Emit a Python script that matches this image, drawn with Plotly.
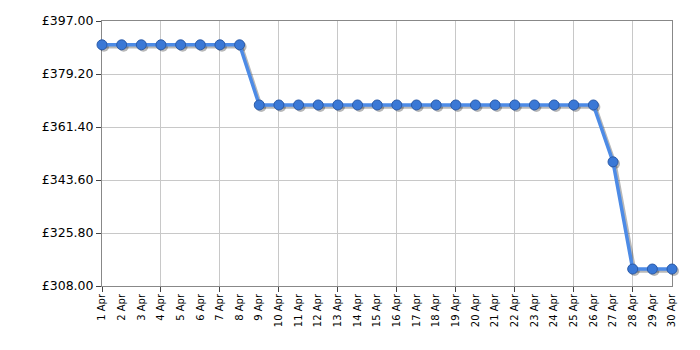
import plotly.graph_objects as go

days = list(range(1, 31))
day_labels = [f"{d} Apr" for d in days]
prices = [389.0] * 8 + [368.8] * 18 + [349.7] + [313.7] * 3
y_ticks = [308.0, 325.8, 343.6, 361.4, 379.2, 397.0]
y_labels = [f"£{v:.2f}" for v in y_ticks]
grid_days = list(range(1, 31, 3))

W, H = 700, 350
ml, mr, mt, mb = 102, 26, 21, 62
pw = W - ml - mr
ph = H - mt - mb
dx = 2 / pw
dy = 2 / ph

xr = [1, 30]
yr = [308, 397]
font = "DejaVu Sans, Verdana, sans-serif"

fig = go.Figure()

# frame / grid holder
fig.add_trace(go.Scatter(x=days, y=prices, xaxis="x", yaxis="y", mode="markers",
                         marker=dict(opacity=0), hoverinfo="skip", showlegend=False))
# shadow (offset axes)
fig.add_trace(go.Scatter(x=days, y=prices, xaxis="x2", yaxis="y2", mode="lines+markers",
                         line=dict(color="rgba(0,0,0,0.28)", width=3.5),
                         marker=dict(size=10, color="rgba(0,0,0,0.28)"),
                         cliponaxis=False, hoverinfo="skip", showlegend=False))
# main data
fig.add_trace(go.Scatter(x=days, y=prices, xaxis="x3", yaxis="y3", mode="lines+markers",
                         line=dict(color="#4d8be6", width=3.5),
                         marker=dict(size=10, color="#3a78d6", line=dict(color="#2a5aa8", width=1)),
                         cliponaxis=False, showlegend=False))

fig.update_layout(
    width=W, height=H,
    margin=dict(l=ml, r=mr, t=mt, b=mb),
    paper_bgcolor="white", plot_bgcolor="rgba(0,0,0,0)",
    font=dict(family=font, color="#000"),
    xaxis=dict(domain=[0, 1 - dx], range=xr, tickmode="array", tickvals=grid_days,
               showticklabels=False, ticks="outside", ticklen=5, tickcolor="#444",
               showgrid=True, gridcolor="#c8c8c8", gridwidth=1,
               showline=True, linecolor="#888", linewidth=1, mirror=True, zeroline=False),
    yaxis=dict(domain=[dy, 1], range=yr, tickmode="array", tickvals=y_ticks, ticktext=y_labels,
               ticks="outside", ticklen=5, tickcolor="#444", tickfont=dict(size=12.5, color="#000"),
               showgrid=True, gridcolor="#c8c8c8", gridwidth=1,
               showline=True, linecolor="#888", linewidth=1, mirror=True, zeroline=False),
    xaxis2=dict(domain=[dx, 1], range=xr, visible=False, anchor="y2"),
    yaxis2=dict(domain=[0, 1 - dy], range=yr, visible=False, anchor="x2"),
    xaxis3=dict(domain=[0, 1 - dx], range=xr, anchor="y3", tickmode="array", tickvals=days,
                ticktext=day_labels, tickangle=-90, ticks="", showgrid=False, zeroline=False,
                showline=False, ticklabelstandoff=5, tickfont=dict(size=10, color="#000")),
    yaxis3=dict(domain=[dy, 1], range=yr, visible=False, anchor="x3"),
)

fig.write_html("out.html")
